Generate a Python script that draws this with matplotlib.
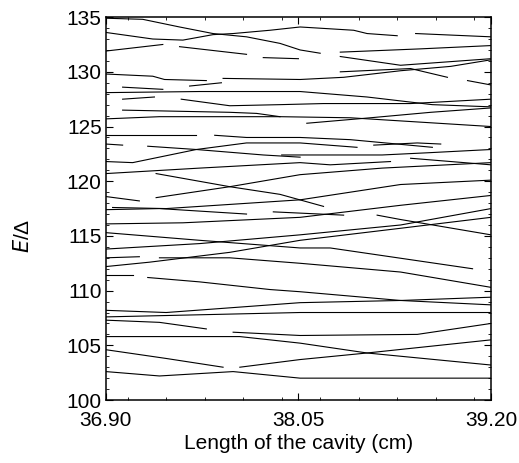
import matplotlib
matplotlib.use("Agg")
import matplotlib.pyplot as plt
from matplotlib.ticker import MultipleLocator, FixedLocator

plt.rcParams["font.family"] = ["Liberation Sans", "DejaVu Sans"]

# energy-level branches E/Delta vs cavity length (cm); each entry is one drawn piece
levels = [
    ([36.90, 37.12, 37.34, 37.54, 37.74, 37.94, 38.06, 38.18], [134.9, 134.8, 134.1, 133.5, 133.2, 132.6, 132.0, 131.7]),
    ([36.90, 37.18, 37.36, 37.54, 37.66, 37.88, 38.06, 38.38, 38.46, 38.64], [133.6, 133.0, 132.9, 133.4, 133.5, 133.8, 134.1, 133.8, 133.5, 133.3]),
    ([38.75, 39.20], [133.5, 133.2]),
    ([36.90, 37.24], [131.9, 132.5]),
    ([37.34, 37.74], [132.3, 131.6]),
    ([37.84, 38.05], [131.3, 131.2]),
    ([38.30, 38.78, 39.20], [131.8, 132.1, 132.4]),
    ([38.30, 38.66, 39.20], [131.4, 130.6, 131.2]),
    ([36.90, 37.18, 37.25, 37.50], [129.8, 129.6, 129.3, 129.2]),
    ([37.60, 38.06, 38.32, 38.66, 38.96, 39.20], [129.4, 129.3, 129.5, 130.1, 130.5, 131.1]),
    ([38.30, 38.72, 38.94], [130.0, 130.3, 129.5]),
    ([39.06, 39.20], [129.2, 128.8]),
    ([37.00, 37.24], [128.6, 128.4]),
    ([37.40, 37.59], [128.7, 129.0]),
    ([36.90, 37.46, 38.06, 38.46, 38.85, 39.20], [128.1, 128.2, 128.2, 127.7, 127.0, 126.8]),
    ([37.00, 37.19], [127.5, 127.7]),
    ([37.35, 37.64, 37.94, 38.20, 38.72, 39.20], [127.5, 126.9, 127.0, 127.1, 127.1, 127.5]),
    ([37.00, 37.64, 37.80, 37.94], [126.5, 126.3, 126.2, 125.9]),
    ([36.90, 37.22, 37.94, 38.36, 38.78, 39.20], [125.7, 125.9, 125.9, 125.8, 125.4, 125.0]),
    ([38.10, 38.48, 38.84, 39.20], [125.3, 125.8, 126.3, 126.7]),
    ([36.90, 37.44], [124.2, 124.2]),
    ([37.55, 37.74, 38.06, 38.36, 38.85], [124.2, 124.0, 124.0, 123.8, 123.1]),
    ([36.90, 37.00], [123.4, 123.3]),
    ([37.15, 37.44, 37.84, 38.06], [123.2, 122.9, 122.4, 122.2]),
    ([38.72, 39.20], [122.1, 121.5]),
    ([36.90, 37.06, 37.44, 37.74, 38.06, 38.40], [121.8, 121.7, 122.9, 123.5, 123.5, 123.1]),
    ([38.50, 38.76, 38.90], [123.3, 123.5, 123.4]),
    ([37.95, 38.55, 38.82, 39.20], [122.4, 122.4, 122.6, 122.9]),
    ([36.90, 37.46, 38.06, 38.24, 38.60], [120.7, 121.2, 121.7, 121.5, 121.8]),
    ([37.20, 37.64, 37.94, 38.20], [120.7, 119.5, 118.8, 117.7]),
    ([37.20, 37.64, 38.06, 38.55, 39.20], [118.5, 119.5, 120.6, 121.2, 121.7]),
    ([36.90, 37.10], [118.6, 118.2]),
    ([36.90, 37.22, 37.74], [117.4, 117.5, 117.0]),
    ([36.94, 37.26, 38.06, 38.66, 39.20], [117.6, 117.5, 118.3, 119.7, 120.1]),
    ([37.90, 38.32], [117.2, 116.9]),
    ([36.90, 37.36, 38.06, 38.66, 39.20], [116.1, 116.2, 116.7, 117.8, 118.7]),
    ([38.52, 38.66, 39.20], [116.9, 116.5, 115.1]),
    ([36.90, 37.46, 38.06, 38.66, 39.20], [113.8, 114.3, 115.1, 116.0, 117.5]),
    ([36.90, 37.16, 37.64, 38.06, 38.66, 39.20], [112.2, 112.6, 113.5, 114.6, 115.7, 116.7]),
    ([36.90, 37.06], [111.4, 111.4]),
    ([37.15, 37.46, 37.88, 38.06, 38.66, 39.20], [111.2, 110.8, 110.1, 109.9, 109.1, 108.7]),
    ([36.90, 37.46, 38.06, 38.24, 39.09], [115.3, 114.6, 113.9, 113.9, 112.0]),
    ([36.90, 37.10], [113.0, 113.1]),
    ([37.22, 37.64, 38.06, 38.66, 39.20], [113.0, 113.0, 112.5, 111.7, 110.3]),
    ([36.90, 37.26, 38.06, 38.66, 39.20], [108.2, 108.0, 108.9, 109.1, 109.4]),
    ([36.90, 38.06, 39.20], [107.6, 108.0, 108.0]),
    ([36.90, 37.22, 37.50], [107.3, 107.1, 106.5]),
    ([36.90, 37.70, 38.06, 38.46, 39.20], [105.8, 105.8, 105.2, 104.3, 103.2]),
    ([37.66, 38.06, 38.76, 39.20], [106.2, 105.9, 106.0, 107.0]),
    ([36.90, 37.26, 37.60], [104.6, 103.8, 103.0]),
    ([37.70, 38.06, 38.46, 39.20], [103.0, 103.7, 104.3, 105.5]),
    ([36.90, 37.22, 37.66, 38.06, 39.20], [102.6, 102.2, 102.6, 102.0, 102.0]),
]

x_ticks = [36.90, 38.05, 39.20]
x_tick_labels = ["36.90", "38.05", "39.20"]
y_ticks = [100, 105, 110, 115, 120, 125, 130, 135]

fig = plt.figure(figsize=(5.19, 4.63), dpi=100)
ax = fig.add_axes([0.204, 0.136, 0.742, 0.827])

for xs, ys in levels:
    ax.plot(xs, ys, color="black", linewidth=0.8)

ax.set_xlim(36.90, 39.20)
ax.set_ylim(100, 135)
ax.xaxis.set_major_locator(FixedLocator(x_ticks))
ax.set_xticklabels(x_tick_labels)
ax.xaxis.set_minor_locator(MultipleLocator(0.23))
ax.yaxis.set_major_locator(FixedLocator(y_ticks))
ax.yaxis.set_minor_locator(MultipleLocator(1))
ax.tick_params(which="both", direction="in", top=True, right=True, labelsize=15)
ax.tick_params(axis="x", pad=8)
ax.tick_params(axis="y", pad=3)
ax.tick_params(which="major", length=5, width=0.8)
ax.tick_params(which="minor", length=2.5, width=0.6)
for spine in ax.spines.values():
    spine.set_linewidth(1.1)

ax.set_xlabel("Length of the cavity (cm)", fontsize=15, labelpad=3)
ax.set_ylabel("$E$/Δ", fontsize=15)
ax.yaxis.set_label_coords(-0.19, 0.43)

fig.savefig("out.png", dpi=100)
